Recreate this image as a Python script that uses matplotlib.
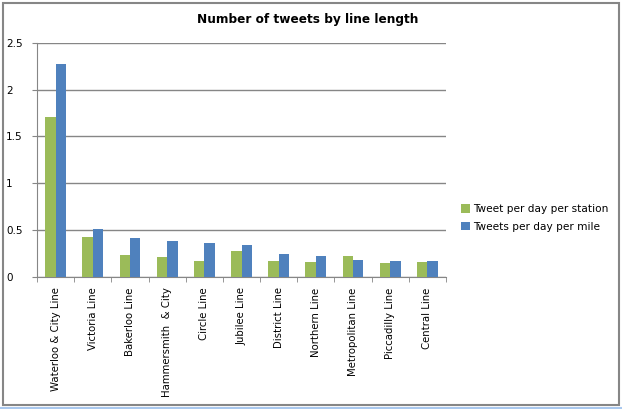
import matplotlib
matplotlib.use("Agg")
import matplotlib.pyplot as plt
from matplotlib.patches import Rectangle
import numpy as np

# Dane
linie = ["Waterloo & City Line", "Victoria Line", "Bakerloo Line", "Hammersmith  & City",
         "Circle Line", "Jubilee Line", "District Line", "Northern Line",
         "Metropolitan Line", "Piccadilly Line", "Central Line"]
na_stacje = [1.71, 0.43, 0.24, 0.21, 0.17, 0.28, 0.17, 0.16, 0.22, 0.15, 0.16]
na_mile = [2.27, 0.51, 0.42, 0.38, 0.36, 0.34, 0.25, 0.22, 0.18, 0.17, 0.17]
etykiety_serii = ["Tweet per day per station", "Tweets per day per mile"]

plt.rcParams['font.family'] = ['DejaVu Sans']

W, H = 622, 409
fig = plt.figure(figsize=(W / 100, H / 100), dpi=100)

# Ramka wokol wykresu
fig.patches.append(Rectangle((3 / W, 1 - 405 / H), 616 / W, 402 / H, transform=fig.transFigure,
                             fill=False, edgecolor='#868686', linewidth=1.5))
fig.lines.append(plt.Line2D([0, 1], [1 - 408 / H] * 2, transform=fig.transFigure,
                            color='#a9c8ee', linewidth=1.5))

ax = fig.add_axes([37 / W, 1 - 277 / H, (446 - 37) / W, (277 - 42.7) / H])

x = np.arange(len(linie))
szer = 0.28
ax.bar(x - szer / 2, na_stacje, szer, color='#9BBB59', label=etykiety_serii[0], zorder=3)
ax.bar(x + szer / 2, na_mile, szer, color='#4F81BD', label=etykiety_serii[1], zorder=3)

ax.set_xlim(-0.5, len(linie) - 0.5)
ax.set_ylim(0, 2.5)
ax.set_yticks([0, 0.5, 1, 1.5, 2, 2.5])
ax.set_yticklabels(["0", "0.5", "1", "1.5", "2", "2.5"], ha='left')
ax.yaxis.grid(True, color='#868686', linewidth=1, zorder=0)

ax.set_xticks(x)
ax.set_xticklabels(linie, rotation=90, fontsize=7.3)
ax.set_xticks(np.arange(len(linie) + 1) - 0.5, minor=True)
ax.tick_params(axis='x', which='major', length=0, pad=7.5)
ax.tick_params(axis='x', which='minor', length=3.6, color='#868686', direction='out')
ax.tick_params(axis='y', length=3.6, color='#868686', labelsize=7.5, pad=18.5)

for s in ['top', 'right']:
    ax.spines[s].set_visible(False)
for s in ['left', 'bottom']:
    ax.spines[s].set_color('#868686')

fig.text(308 / W, 1 - 19 / H, "Number of tweets by line length", ha='center', va='center',
         fontsize=8.7, fontweight='bold')

fig.legend(loc='center left', bbox_to_anchor=(451 / W, 1 - 218 / H), frameon=False,
           fontsize=7.6, handlelength=0.9, handleheight=0.9, handletextpad=0.3,
           labelspacing=0.7)

plt.savefig("out.png", dpi=100)
